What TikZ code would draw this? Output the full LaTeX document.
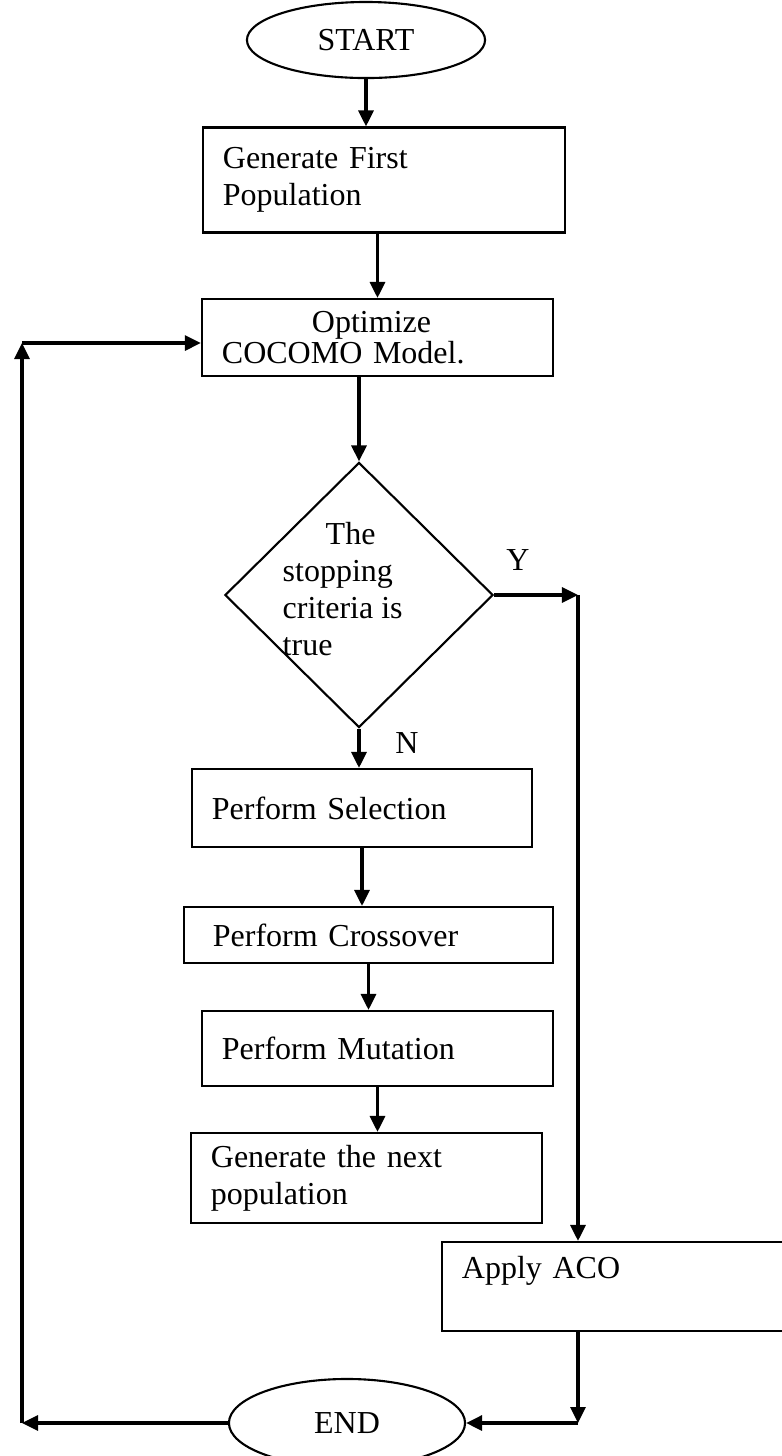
\documentclass[tikz,border=0pt]{standalone}
\usepackage{fontspec}
\setmainfont{Liberation Serif}
\usepackage{tikz}
\usetikzlibrary{shapes.geometric,arrows.meta}
\tikzstyle{term}=[ellipse, draw, line width=0.6pt, inner sep=0pt]
\tikzstyle{proc}=[rectangle, draw, line width=0.6pt, align=left, inner xsep=0.2cm, inner ysep=0pt]
\tikzstyle{cond}=[diamond, draw, line width=0.6pt, inner sep=0pt]
\tikzstyle{txt}=[align=left, inner sep=0pt]
\tikzstyle{arr}=[line width=0.9pt, -{Triangle[length=1.6mm,width=1.5mm]}]

\begin{document}
\begin{tikzpicture}[x=0.01cm, y=-0.01cm, font=\fontsize{9.1}{10.6}\selectfont]
    \useasboundingbox (0,0) rectangle (782,1456);
    \clip (0,0) rectangle (782,1456);

    % start and end
    \node[term, minimum width=2.38cm, minimum height=0.76cm] (start) at (366,40) {START};
    \node[term, minimum width=2.36cm, minimum height=0.88cm] (end) at (347,1423) {END};

    % the boxes
    \node[proc, text width=3.22cm, minimum height=1.05cm] (gen1) at (384,180) {Generate First\\Population};
    \node[proc, text width=3.11cm, minimum height=0.77cm, font=\fontsize{9.1}{9}\selectfont] (opt) at (377.5,337.5) {\hspace*{0.9cm}Optimize\\COCOMO Model.};
    \node[proc, text width=3.0cm, minimum height=0.78cm] (sel) at (362,808) {Perform Selection};
    \node[proc, inner xsep=0.29cm, text width=3.11cm, minimum height=0.56cm] (cross) at (368.5,935) {Perform Crossover};
    \node[proc, text width=3.11cm, minimum height=0.75cm] (mut) at (377.5,1048.5) {Perform Mutation};
    \node[proc, text width=3.11cm, minimum height=0.90cm] (next) at (366.5,1178) {Generate the next\\population};
    \node[proc, text width=3.18cm, minimum height=0.89cm] (aco) at (621,1286.5) {Apply ACO\\\mbox{}};

    % the test
    \node[cond, minimum width=2.68cm, minimum height=2.65cm] (dec) at (359,595) {};
    \node[txt, anchor=west] (dectext) at (282,589) {\hspace*{0.43cm}The\\stopping\\criteria is\\true};
    \node (ylab) at (518,560) {Y};
    \node (nlab) at (407,743) {N};

    \coordinate (yline) at (578,600);
    \coordinate (back) at (22,343);

    % main line down
    \draw[arr] (start) -- (start |- gen1.north);
    \draw[arr] (gen1.south -| opt) -- (opt.north);
    \draw[arr] (opt.south -| dec) -- (dec.north);
    \draw[arr] (dec.south) -- (dec.south |- sel.north);
    \foreach \a/\b in {sel/cross, cross/mut, mut/next}{
      \draw[arr] (\a.south) -- (\a.south |- \b.north);
    }

    % yes branch
    \draw[arr] (dec.east) -- (dec.east -| yline);
    \draw[arr] (dec.east -| yline) -- (yline |- aco.north);
    \draw[arr] (yline |- aco.south) -- (yline |- end.east);
    \draw[arr] (yline |- end.east) -- (end.east);

    % back to the model
    \draw[arr] (end.west) -- (back |- end.west);
    \draw[arr] (back |- end.west) -- (back);
    \draw[arr] (back) -- (back -| opt.west);
\end{tikzpicture}
\end{document}
